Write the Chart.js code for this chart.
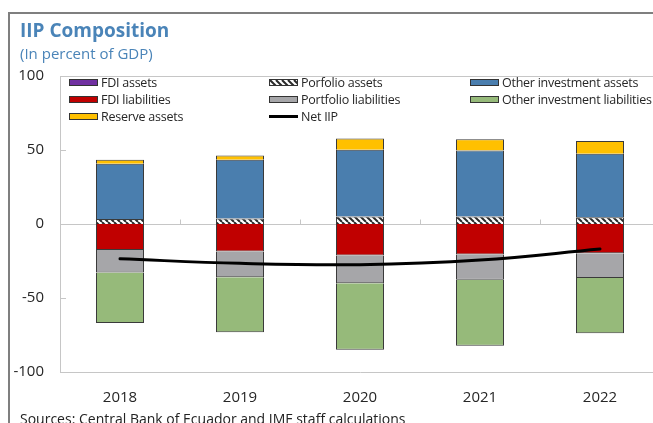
<!DOCTYPE html>
<html>
<head>
<meta charset="utf-8">
<script src="https://cdn.jsdelivr.net/npm/chart.js@4"></script>
<style>
  html, body { margin: 0; padding: 0; background: #fff; overflow: hidden; }
  body { width: 653px; height: 423px; position: relative; font-family: "Open Sans", "Noto Sans", sans-serif; }
  #frame { position: absolute; left: 8px; top: 12px; width: 700px; height: 500px; border-top: 2px solid #7f7f7f; border-left: 2px solid #7f7f7f; }
  #title { position: absolute; left: 20px; top: 19px; font-size: 19px; font-weight: bold; color: #4a84b8; line-height: 22px; }
  #subtitle { position: absolute; left: 20px; top: 43px; font-size: 15px; color: #4a84b8; line-height: 20px; }
  #source { position: absolute; left: 20px; top: 409px; font-size: 14px; color: #222; line-height: 20px; white-space: nowrap; }
  #wrap { position: absolute; left: 0; top: 0; width: 670px; height: 423px; }
  #legend { position: absolute; left: 69px; top: 74px; display: grid; grid-template-columns: 200px 201px 200px; grid-auto-rows: 17px; font-size: 12.5px; letter-spacing: -0.25px; color: #262626; }
  #legend .item { display: flex; align-items: center; white-space: nowrap; }
  #legend .sw { width: 27px; height: 5px; border: 1px solid #333; margin-right: 3px; }
  #legend .ln { width: 29px; height: 3px; background: #000; margin-right: 3px; }
</style>
</head>
<body>
<div id="frame"></div>
<div id="wrap"><canvas id="iip" width="670" height="423"></canvas></div>
<div id="title">IIP Composition</div>
<div id="subtitle">(In percent of GDP)</div>
<div id="legend"></div>
<div id="source">Sources: Central Bank of Ecuador and IMF staff calculations</div>
<script>
const years = ['2018', '2019', '2020', '2021', '2022'];
const fdiAssets = [0, 0, 0, 0, 0];
const portfolioAssets = [3.4, 3.8, 5.0, 5.0, 4.5];
const otherInvAssets = [37.3, 39.6, 45.2, 44.7, 43.0];
const reserveAssets = [2.7, 2.9, 7.5, 7.5, 8.5];
const fdiLiabilities = [-17.6, -18.6, -21.3, -20.6, -19.7];
const portfolioLiabilities = [-15.2, -17.4, -18.7, -17.0, -16.8];
const otherInvLiabilities = [-34.1, -37.1, -45.0, -44.6, -37.3];
const netIIP = [-23.5, -26.6, -27.5, -24.4, -16.9];
const yTicks = [-100, -50, 0, 50, 100];

const gridGray = '#c6c6c6';
const barEdge = '#3a3a3a';

// diagonal hatch used for portfolio assets
function makeHatch() {
    const c = document.createElement('canvas');
    c.width = 6; c.height = 6;
    const g = c.getContext('2d');
    g.fillStyle = '#fff';
    g.fillRect(0, 0, 6, 6);
    g.strokeStyle = '#2a2a2a';
    g.lineWidth = 2;
    for (let x0 = -6; x0 <= 6; x0 += 6) {
        g.beginPath();
        g.moveTo(x0, 0);
        g.lineTo(x0 + 6, 6);
        g.stroke();
    }
    return c;
}
const hatchCanvas = makeHatch();
const ctx = document.getElementById('iip').getContext('2d');
const hatch = ctx.createPattern(hatchCanvas, 'repeat');

function bar(label, data, color) {
    return {
        type: 'bar', label: label, data: data,
        backgroundColor: color, borderColor: barEdge, borderWidth: 1,
        barPercentage: 0.4, categoryPercentage: 1, order: 1
    };
}

// plot frame, zero line and the small inner tick marks
const framePlugin = {
    id: 'frame',
    beforeDatasetsDraw(chart) {
        const { ctx, chartArea: a, scales: { x, y } } = chart;
        ctx.save();
        ctx.strokeStyle = gridGray;
        ctx.lineWidth = 1;
        ctx.beginPath();
        ctx.moveTo(a.left, Math.round(a.top) + 0.5);
        ctx.lineTo(a.right, Math.round(a.top) + 0.5);
        const zy = Math.round(y.getPixelForValue(0)) + 0.5;
        ctx.moveTo(a.left, zy);
        ctx.lineTo(a.right, zy);
        yTicks.forEach(v => {
            const py = Math.round(y.getPixelForValue(v)) + 0.5;
            ctx.moveTo(a.left, py);
            ctx.lineTo(a.left + 6, py);
        });
        for (let i = 1; i < years.length; i++) {
            const px = Math.round((x.getPixelForValue(i - 1) + x.getPixelForValue(i)) / 2) + 0.5;
            ctx.moveTo(px, zy);
            ctx.lineTo(px, zy - 5);
        }
        ctx.stroke();
        ctx.restore();
    }
};

const chart = new Chart(ctx, {
    data: {
        labels: years,
        datasets: [
            {
                type: 'line', label: 'Net IIP', data: netIIP, stack: 'net',
                borderColor: '#000', borderWidth: 3, tension: 0.4,
                pointRadius: 0, fill: false, order: 0, borderCapStyle: 'round'
            },
            bar('FDI assets', fdiAssets, '#7030a0'),
            bar('Porfolio assets', portfolioAssets, hatch),
            bar('Other investment assets', otherInvAssets, '#4a7eae'),
            bar('Reserve assets', reserveAssets, '#ffc000'),
            bar('FDI liabilities', fdiLiabilities, '#c00000'),
            bar('Portfolio liabilities', portfolioLiabilities, '#a6a6a9'),
            bar('Other investment liabilities', otherInvLiabilities, '#96ba7a')
        ]
    },
    options: {
        responsive: false,
        animation: false,
        layout: { padding: { top: 76, right: 10, left: 0, bottom: 0 } },
        plugins: { legend: { display: false }, tooltip: { enabled: false } },
        scales: {
            x: {
                stacked: true,
                grid: { display: false, drawTicks: false },
                border: { display: true, color: gridGray },
                ticks: { color: '#262626', font: { family: '"Open Sans", sans-serif', size: 15 }, padding: 17 },
                afterFit(s) { s.height = 51; }
            },
            y: {
                stacked: true,
                min: -100, max: 100,
                afterBuildTicks(s) { s.ticks = yTicks.map(v => ({ value: v })); },
                grid: { display: false, drawTicks: false },
                border: { display: true, color: gridGray },
                ticks: { color: '#262626', font: { family: '"Open Sans", sans-serif', size: 15 }, padding: 16 },
                afterFit(s) { s.width = 60; }
            }
        }
    },
    plugins: [framePlugin]
});

// three-column legend laid out row by row
const legendRows = [
    ['FDI assets', 'Porfolio assets', 'Other investment assets'],
    ['FDI liabilities', 'Portfolio liabilities', 'Other investment liabilities'],
    ['Reserve assets', 'Net IIP']
];
const legendEl = document.getElementById('legend');
legendRows.flat().forEach(name => {
    const ds = chart.data.datasets.find(d => d.label === name);
    const item = document.createElement('div');
    item.className = 'item';
    const sw = document.createElement('span');
    if (ds.type === 'line') {
        sw.className = 'ln';
    } else {
        sw.className = 'sw';
        if (ds.backgroundColor === hatch) {
            sw.style.backgroundImage = 'url(' + hatchCanvas.toDataURL() + ')';
        } else {
            sw.style.background = ds.backgroundColor;
        }
    }
    item.appendChild(sw);
    item.appendChild(document.createTextNode(name));
    legendEl.appendChild(item);
});
</script>
</body>
</html>
